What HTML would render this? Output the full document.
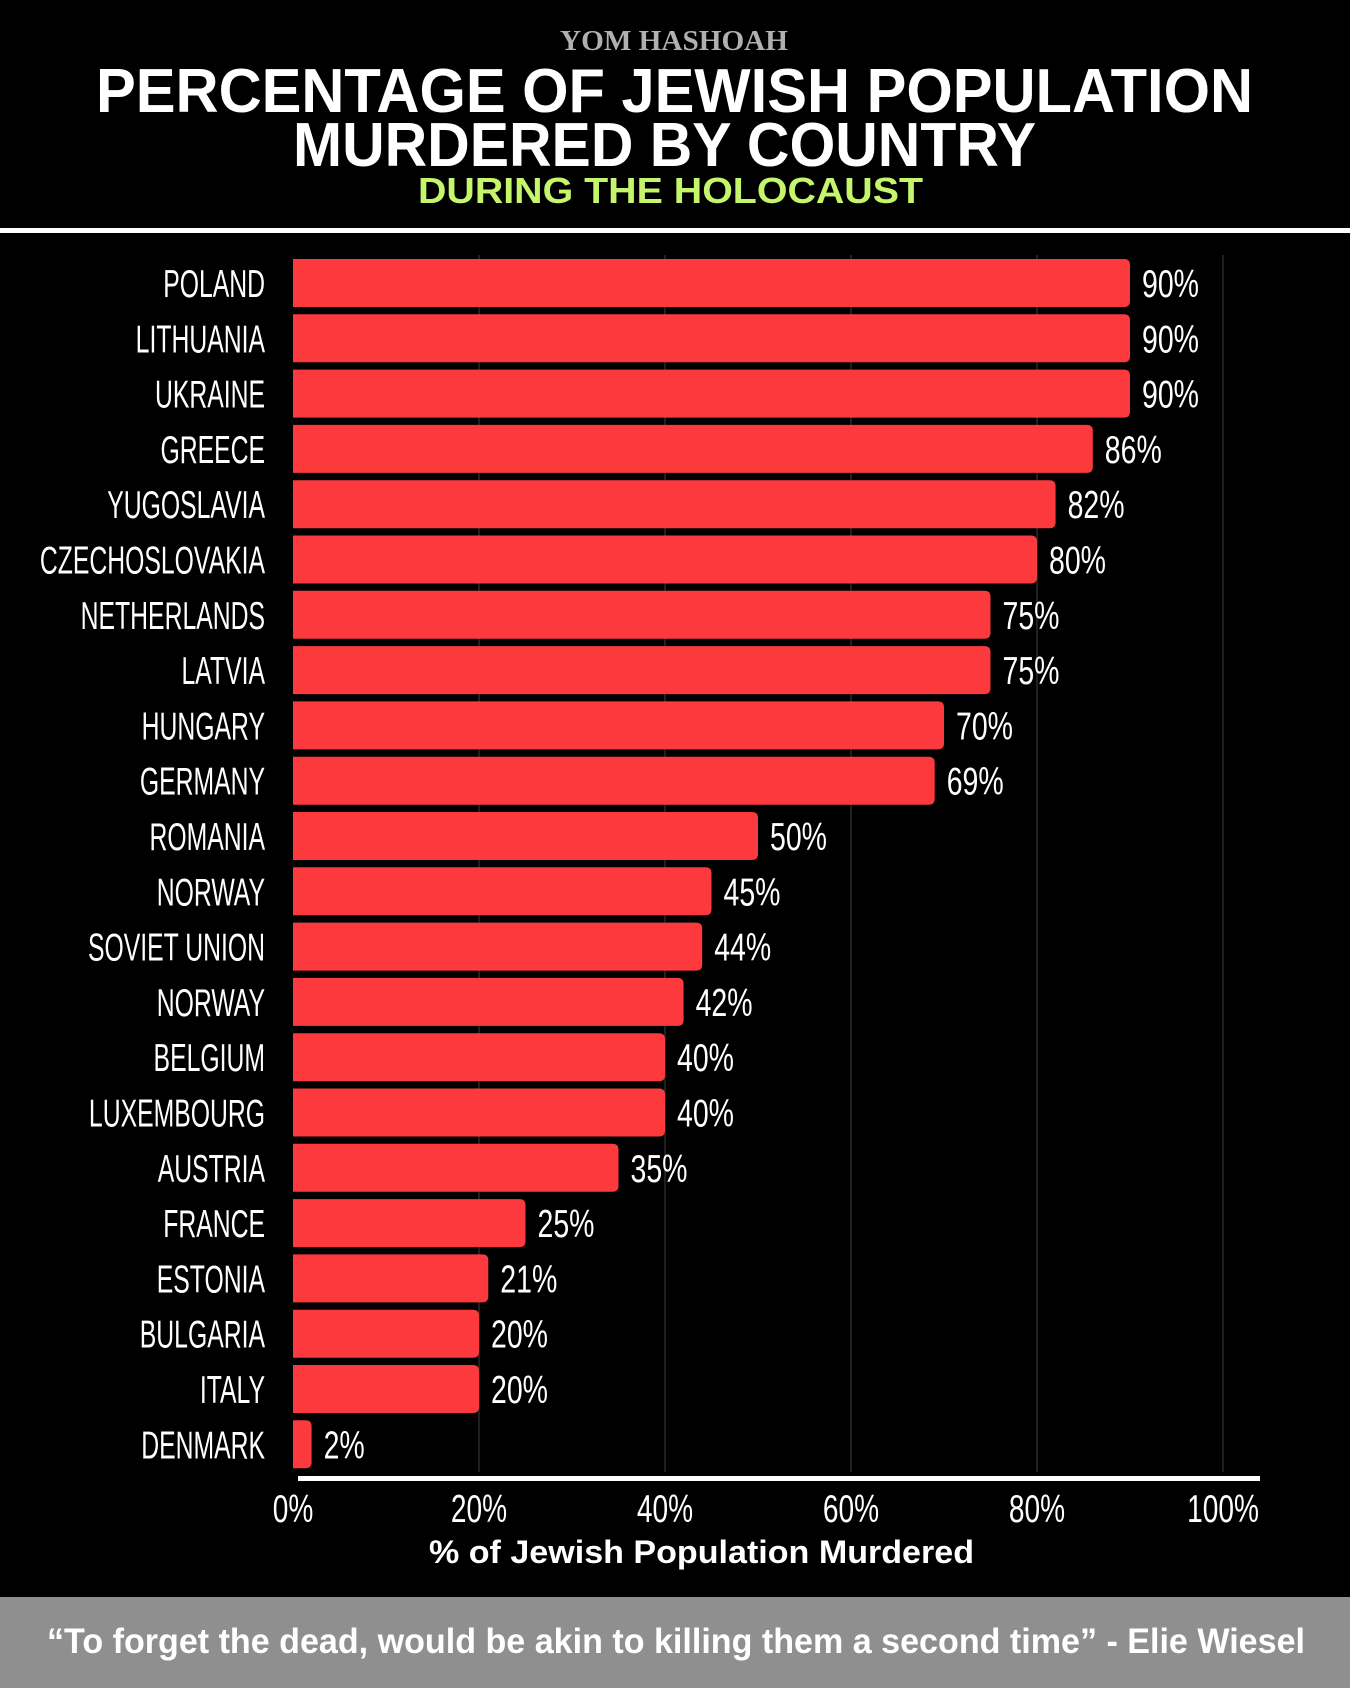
<!DOCTYPE html>
<html><head><meta charset="utf-8"><style>
html,body{margin:0;padding:0;background:#000;}
svg{display:block;}
</style></head><body>
<svg width="1350" height="1688" viewBox="0 0 1350 1688" xmlns="http://www.w3.org/2000/svg" font-family="Liberation Sans, sans-serif">
<rect width="1350" height="1688" fill="#000"/>
<text x="674" y="50" fill="#b0b0b0" font-family="Liberation Serif, serif" font-weight="bold" font-size="28" text-anchor="middle" textLength="228" lengthAdjust="spacingAndGlyphs">YOM HASHOAH</text>
<text x="96" y="112" fill="#fff" font-weight="bold" font-size="62" textLength="1157" lengthAdjust="spacingAndGlyphs">PERCENTAGE OF JEWISH POPULATION</text>
<text x="293" y="166" fill="#fff" font-weight="bold" font-size="62" textLength="743" lengthAdjust="spacingAndGlyphs">MURDERED BY COUNTRY</text>
<text x="418" y="203" fill="#c4f56a" font-weight="bold" font-size="36" textLength="505" lengthAdjust="spacingAndGlyphs">DURING THE HOLOCAUST</text>
<rect x="0" y="228" width="1350" height="5" fill="#fff"/>
<g stroke="#2a2a2a" stroke-width="1.5">
<line x1="479" y1="255" x2="479" y2="1472"/>
<line x1="665" y1="255" x2="665" y2="1472"/>
<line x1="851" y1="255" x2="851" y2="1472"/>
<line x1="1037" y1="255" x2="1037" y2="1472"/>
<line x1="1223" y1="255" x2="1223" y2="1472"/>
</g>
<rect x="298" y="1476" width="962" height="5" fill="#fff"/>
<g fill="#fff" font-size="39" text-anchor="middle">
<text transform="translate(293,1522) scale(0.72,1)">0%</text>
<text transform="translate(479,1522) scale(0.72,1)">20%</text>
<text transform="translate(665,1522) scale(0.72,1)">40%</text>
<text transform="translate(851,1522) scale(0.72,1)">60%</text>
<text transform="translate(1037,1522) scale(0.72,1)">80%</text>
<text transform="translate(1223,1522) scale(0.72,1)">100%</text>
</g>
<text x="429" y="1563" fill="#fff" font-weight="bold" font-size="32" textLength="545" lengthAdjust="spacingAndGlyphs">% of Jewish Population Murdered</text>
<rect x="0" y="1597" width="1350" height="91" fill="#8f8f8f"/>
<text x="47" y="1653" fill="#fff" font-weight="bold" font-size="35" textLength="1258" lengthAdjust="spacingAndGlyphs">“To forget the dead, would be akin to killing them a second time” - Elie Wiesel</text>
<g id="rows"></g>
</svg>
<script>
var d=[["POLAND",90],["LITHUANIA",90],["UKRAINE",90],["GREECE",86],["YUGOSLAVIA",82],["CZECHOSLOVAKIA",80],["NETHERLANDS",75],["LATVIA",75],["HUNGARY",70],["GERMANY",69],["ROMANIA",50],["NORWAY",45],["SOVIET UNION",44],["NORWAY",42],["BELGIUM",40],["LUXEMBOURG",40],["AUSTRIA",35],["FRANCE",25],["ESTONIA",21],["BULGARIA",20],["ITALY",20],["DENMARK",2]];
var s="";
d.forEach(function(r,i){
 var top=259+i*55.3,w=r[1]*9.3,cy=top+24;
 s+='<path d="M293 '+top+' H'+(293+w-6)+' Q'+(293+w)+' '+top+' '+(293+w)+' '+(top+6)+' V'+(top+42)+' Q'+(293+w)+' '+(top+48)+' '+(293+w-6)+' '+(top+48)+' H293 Z" fill="#fc3a3d"/>';
 s+='<text transform="translate(265,'+(cy+14)+') scale(0.635,1)" fill="#fff" font-size="39" text-anchor="end">'+r[0]+'</text>';
 s+='<text transform="translate('+(293+w+12)+','+(cy+14)+') scale(0.73,1)" fill="#fff" font-size="39">'+r[1]+'%</text>';
});
document.getElementById("rows").innerHTML=s;
</script>
</body></html>
